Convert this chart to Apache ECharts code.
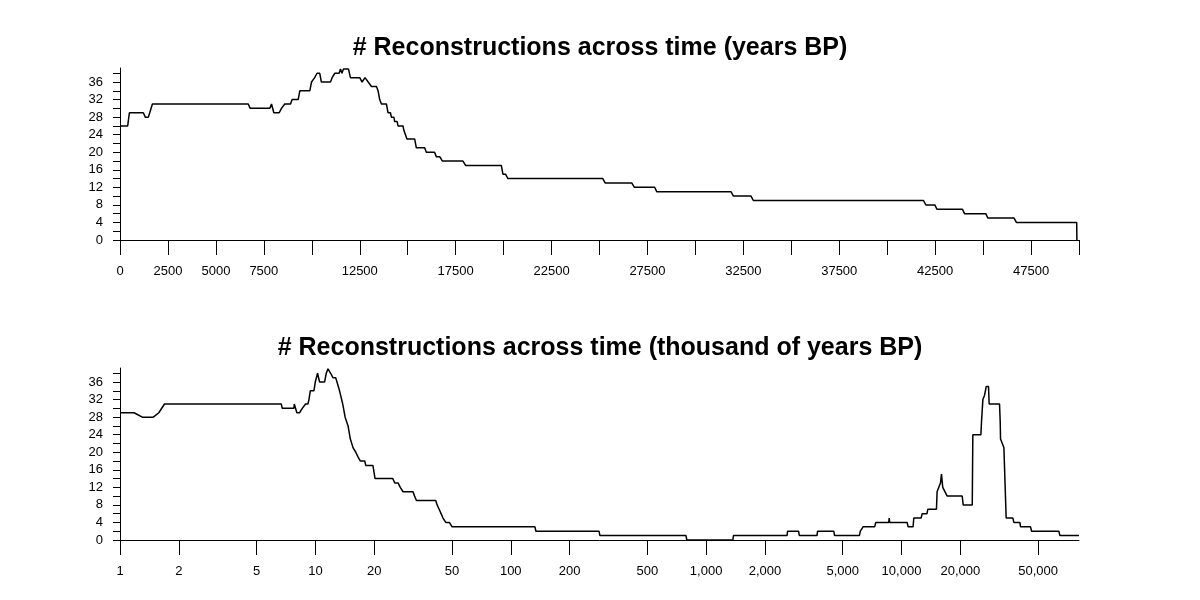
<!DOCTYPE html>
<html><head><meta charset="utf-8">
<script src="https://cdn.jsdelivr.net/npm/echarts@6/dist/echarts.min.js"></script>
<style>html,body{margin:0;padding:0;background:#fff}#c{width:1200px;height:600px}</style>
</head><body><div id="c"></div>
<script>
// ---- Top panel: years BP ----
const topYears = [0,400,490,1215,1320,1480,1690,6685,6790,7810,7900,8020,8300,8420,8590,8890,8975,9290,9375,9895,9985,10150,10275,10415,10500,10970,11060,11200,11425,11495,11570,11650,11910,12015,12500,12620,12775,12940,13110,13370,13455,13540,13630,13890,13975,14100,14150,14280,14320,14450,14495,14755,14800,14900,14960,15365,15450,15885,15970,16400,16490,16670,16810,17880,18020,19880,19965,20100,20225,25170,25295,26680,26820,27880,27985,31860,31980,32900,33020,41890,42015,42485,42590,43925,44030,45140,45245,46615,46735,49880,49890];
const topCounts = [26,26,29,29,28,28,31,31,30,30,31,29,29,30,31,31,32,32,34,34,36,37,38,38,36,36,37,38,38,39,38,39,39,37,37,36,37,36,35,35,34,32,31,31,29,29,28,28,27,27,26,26,25,25,23,23,21,21,20,20,19,19,18,18,17,17,15,15,14,14,13,13,12,12,11,11,10,10,9,9,8,8,7,7,6,6,5,5,4,4,0];

// ---- Bottom panel: thousand of years BP (log axis) ----
const bottomKyr = [1,1.18,1.30,1.48,1.58,1.69,6.69,6.77,7.76,7.80,8.04,8.30,8.57,8.91,9.16,9.27,9.42,9.83,9.99,10.26,10.51,11.14,11.37,11.6,11.8,11.97,12.3,12.7,12.9,13.3,13.8,14.2,14.7,15.1,15.6,16.1,16.5,17.0,17.9,18.1,19.7,20.2,24.9,25.5,26.5,27.2,28.1,31.6,32.2,32.9,41.3,42,43,44,45,46.5,48.5,50.1,133,134.5,283,286,789,796,1370,1380,2594,2612,2972,3000,3693,3720,4500,4547,6085,6155,6300,6355,7290,7380,8600,8650,8700,10690,10810,11460,11560,12600,12760,13500,13630,15100,15210,15520,15830,16020,16260,16590,17130,20450,20690,23020,23180,25480,25680,26090,26610,27160,27880,28100,31750,32000,32130,32800,33430,34070,34330,37170,37570,40350,40680,45760,46330,63900,64700,81000];
const bottomCounts = [29,29,28,28,29,31,31,30,30,31,29,29,30,31,31,32,34,34,36,38,36,36,38,39,39,38,37,37,36,34,31,28,26,23,21,20,19,18,18,17,17,14,14,13,13,12,11,11,10,9,9,8,7,6,5,4,4,3,3,2,2,1,1,0,0,1,1,2,2,1,1,2,2,1,1,2,2,3,3,4,4,5,4,4,3,3,5,5,6,6,7,7,11,12,13,15,12,12,10,10,8,8,24,24,27,32,33,35,35,31,31,27,23,22,21,21,5,5,4,4,3,3,2,2,1,1];

// ---- Tick values / labels ----
const yTickValues = [0,2,4,6,8,10,12,14,16,18,20,22,24,26,28,30,32,34,36,38];
const yLabelValues = [0,4,8,12,16,20,24,28,32,36];
const topXTicks = [0,2500,5000,7500,10000,12500,15000,17500,20000,22500,25000,27500,30000,32500,35000,37500,40000,42500,45000,47500,50000];
const topXLabels = [0,2500,5000,7500,12500,17500,22500,27500,32500,37500,42500,47500];
const bottomXTicks = [1,2,5,10,20,50,100,200,500,1000,2000,5000,10000,20000,50000];
const bottomXLabels = [1,2,5,10,20,50,100,200,500,1000,2000,5000,10000,20000,50000];
const titles = ['# Reconstructions across time (years BP)', '# Reconstructions across time (thousand of years BP)'];

const FONT = 'Liberation Sans, Arial, sans-serif';
const topData = topYears.map((x, i) => [x, topCounts[i]]);
const bottomData = bottomKyr.map((x, i) => [x, bottomCounts[i]]);

function yAxisCfg(gi) {
  return {
    type: 'value', gridIndex: gi, min: 0, max: 39.2,
    axisLine: { show: true, lineStyle: { color: '#000', width: 1 } },
    axisTick: { show: true, length: 7, customValues: yTickValues, lineStyle: { color: '#000' } },
    axisLabel: { customValues: yLabelValues, margin: 17, color: '#000', fontSize: 13, fontFamily: FONT,
      formatter: v => String(Math.round(v)) },
    splitLine: { show: false }
  };
}

const chart = echarts.init(document.getElementById('c'), null, { renderer: 'canvas' });
chart.setOption({
  animation: false,
  backgroundColor: '#fff',
  title: [
    { text: titles[0], left: 'center', top: 31, textStyle: { fontSize: 25, fontWeight: 'bold', fontFamily: FONT, color: '#000' } },
    { text: titles[1], left: 'center', top: 331, textStyle: { fontSize: 25, fontWeight: 'bold', fontFamily: FONT, color: '#000' } }
  ],
  grid: [
    { left: 120, right: 121, top: 68, height: 172 },
    { left: 120, right: 121, top: 368, height: 172 }
  ],
  xAxis: [
    {
      type: 'value', gridIndex: 0, min: 0, max: 50000,
      axisLine: { show: true, onZero: false, lineStyle: { color: '#000', width: 1 } },
      axisTick: { show: true, length: 15, customValues: topXTicks, lineStyle: { color: '#000' } },
      axisLabel: { customValues: topXLabels, margin: 25, color: '#000', fontSize: 13, fontFamily: FONT,
        formatter: v => String(Math.round(v)) },
      splitLine: { show: false }
    },
    {
      type: 'log', logBase: 10, gridIndex: 1, min: 1, max: 81000,
      axisLine: { show: true, onZero: false, lineStyle: { color: '#000', width: 1 } },
      axisTick: { show: true, length: 15, customValues: bottomXTicks, lineStyle: { color: '#000' } },
      axisLabel: {
        customValues: bottomXLabels, margin: 25, color: '#000', fontSize: 13, fontFamily: FONT,
        formatter: v => Math.round(v).toLocaleString('en-US')
      },
      splitLine: { show: false }, minorTick: { show: false }
    }
  ],
  yAxis: [yAxisCfg(0), yAxisCfg(1)],
  series: [
    { type: 'line', xAxisIndex: 0, yAxisIndex: 0, data: topData, showSymbol: false, symbol: 'none',
      lineStyle: { color: '#000', width: 1.5 }, silent: true },
    { type: 'line', xAxisIndex: 1, yAxisIndex: 1, data: bottomData, showSymbol: false, symbol: 'none',
      lineStyle: { color: '#000', width: 1.5 }, silent: true }
  ]
});
</script>
</body></html>
